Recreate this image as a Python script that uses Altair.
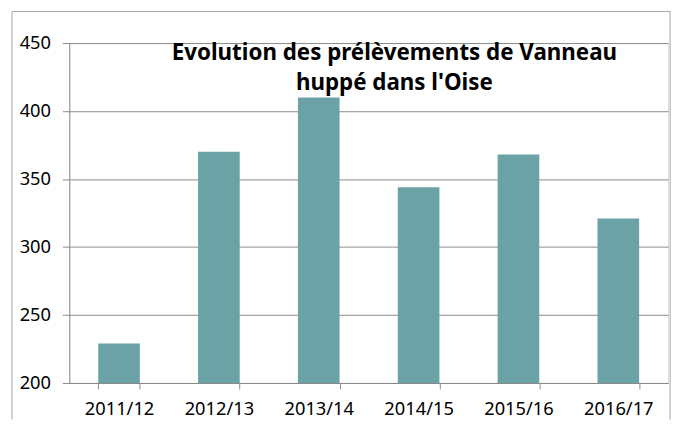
import altair as alt
import pandas as pd

categories = ["2011/12", "2012/13", "2013/14", "2014/15", "2015/16", "2016/17"]
values = [229, 370, 410, 344, 368, 321]
title_lines = ["Evolution des prélèvements de Vanneau", "huppé dans l'Oise"]
y_ticks = [200, 250, 300, 350, 400, 450]

df = pd.DataFrame({"saison": categories, "prelevements": values})
title_df = pd.DataFrame({"t": ["\n".join(title_lines)]})
one = pd.DataFrame({"k": [0]})

FONT = "Noto Sans"
GRAY = "#8a8a8a"
LABEL_SIZE = 18.5

bars = alt.Chart(df).mark_bar(color="#6aa2a6", clip=True).encode(
    x=alt.X(
        "saison:N",
        sort=categories,
        scale=alt.Scale(paddingInner=0.583, paddingOuter=0.29),
        axis=alt.Axis(
            title=None, labelAngle=0, tickBand="extent", tickSize=6,
            labelPadding=11, domainColor=GRAY, tickColor=GRAY,
            labelFont=FONT, labelFontSize=LABEL_SIZE, labelColor="black",
        ),
    ),
    y=alt.Y(
        "prelevements:Q",
        scale=alt.Scale(domain=[200, 450], nice=False, zero=False),
        axis=alt.Axis(
            title=None, values=y_ticks, grid=True, gridColor=GRAY,
            tickSize=7, labelPadding=12, domainColor=GRAY, tickColor=GRAY,
            labelFont=FONT, labelFontSize=LABEL_SIZE, labelColor="black",
        ),
    ),
)

title = alt.Chart(title_df).mark_text(
    font=FONT, fontSize=22.6, fontWeight="bold", color="black",
    align="center", baseline="alphabetic", lineBreak="\n", lineHeight=30,
).encode(text="t:N", x=alt.value(329), y=alt.value(17))

frame_col = "#a6a6a6"
frame_left = alt.Chart(one).mark_rule(color=frame_col).encode(
    x=alt.value(-58), y=alt.value(-32), y2=alt.value(381))
frame_top = alt.Chart(one).mark_rule(color=frame_col).encode(
    x=alt.value(-58), x2=alt.value(608), y=alt.value(-32))
frame_right = alt.Chart(one).mark_rule(color=frame_col).encode(
    x=alt.value(608), y=alt.value(-32), y2=alt.value(381))

chart = alt.layer(bars, title, frame_left, frame_top, frame_right).properties(
    width=606, height=344,
    autosize=alt.AutoSizeParams(type="none"),
    padding={"left": 62, "top": 33, "right": 7, "bottom": 37},
).configure_view(stroke=None).configure(background="white")

chart.save("out.html", embed_options={"renderer": "svg", "actions": False})
